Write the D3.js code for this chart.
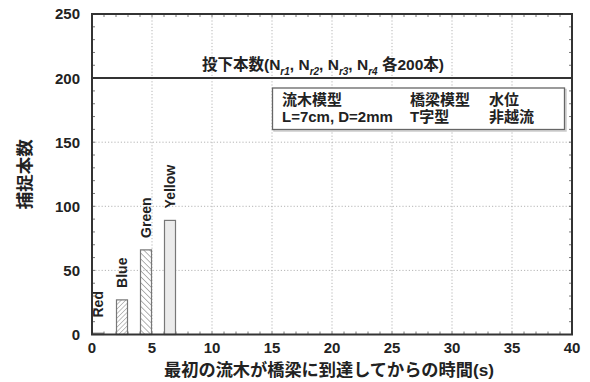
<!DOCTYPE html>
<html>
<head>
<meta charset="utf-8">
<script src="https://cdn.jsdelivr.net/npm/d3@7"></script>
<style>
  html, body { margin: 0; padding: 0; background: #fff; }
  svg { display: block; }
  text { fill: #222; }
</style>
</head>
<body>
<svg id="chart" width="590" height="382"></svg>
<script>
// Driftwood capture counts per elapsed-time bin (1 s bins)
const groups = ["Red", "Blue", "Green", "Yellow"];
const binStart = [0, 2, 4, 6];          // s
const captured = [1, 27, 66, 89];       // pieces captured
const dropTotal = 200;                  // pieces dropped per colour
const xTicks = [0, 5, 10, 15, 20, 25, 30, 35, 40];
const yTicks = [0, 50, 100, 150, 200, 250];

const latin = "'Liberation Sans', Arial, sans-serif";
const cjk = "'Liberation Sans', 'Noto Sans CJK JP', sans-serif";

const svg = d3.select("#chart");
const L = 92, R = 572, T = 14, B = 334.5;

const x = d3.scaleLinear().domain([0, 40]).range([L, R]);
const y = d3.scaleLinear().domain([0, 250]).range([B, T]);

// hatch patterns
const defs = svg.append("defs");
defs.append("pattern")
  .attr("id", "hatchBack").attr("patternUnits", "userSpaceOnUse")
  .attr("width", 3.2).attr("height", 3.2).attr("patternTransform", "rotate(45)")
  .append("line").attr("x1", 0).attr("y1", 0).attr("x2", 0).attr("y2", 3.2)
  .attr("stroke", "#777").attr("stroke-width", 0.9);
defs.append("pattern")
  .attr("id", "hatchFwd").attr("patternUnits", "userSpaceOnUse")
  .attr("width", 4.2).attr("height", 4.2).attr("patternTransform", "rotate(-45)")
  .append("line").attr("x1", 0).attr("y1", 0).attr("x2", 0).attr("y2", 4.2)
  .attr("stroke", "#666").attr("stroke-width", 1);
const fills = ["#fff", "url(#hatchBack)", "url(#hatchFwd)", "#ebebeb"];

// dotted grid
const grid = svg.append("g").attr("stroke", "#b5b5b5").attr("stroke-width", 1)
  .attr("stroke-dasharray", "1.2,2");
grid.selectAll(".gx").data(xTicks.slice(1, -1)).join("line")
  .attr("x1", d => x(d)).attr("x2", d => x(d)).attr("y1", T).attr("y2", B);
grid.selectAll(".gy").data(yTicks.slice(1, -1)).join("line")
  .attr("y1", d => y(d)).attr("y2", d => y(d)).attr("x1", L).attr("x2", R);

// minor ticks (inward) on all sides
const mt = svg.append("g").attr("stroke", "#555").attr("stroke-width", 0.8);
const xMinor = d3.range(1, 40);
const yMinor = d3.range(10, 250, 10);
mt.selectAll(".mb").data(xMinor).join("line")
  .attr("x1", d => x(d)).attr("x2", d => x(d)).attr("y1", B).attr("y2", B - 3);
mt.selectAll(".mtp").data(xMinor).join("line")
  .attr("x1", d => x(d)).attr("x2", d => x(d)).attr("y1", T).attr("y2", T + 3);
mt.selectAll(".ml").data(yMinor).join("line")
  .attr("y1", d => y(d)).attr("y2", d => y(d)).attr("x1", L).attr("x2", L + 3);
mt.selectAll(".mr").data(yMinor).join("line")
  .attr("y1", d => y(d)).attr("y2", d => y(d)).attr("x1", R).attr("x2", R - 3);

// bars
const bars = groups.map((g, i) => ({ g, t: binStart[i], v: captured[i], fill: fills[i] }));
svg.append("g").selectAll("rect").data(bars).join("rect")
  .attr("x", d => x(d.t) + 0.5)
  .attr("width", d => x(d.t + 1) - x(d.t) - 1)
  .attr("y", d => y(d.v))
  .attr("height", d => y(0) - y(d.v))
  .attr("fill", d => d.fill)
  .attr("stroke", "#777").attr("stroke-width", 1.2);

// group labels above bars, rotated
svg.append("g").selectAll("text").data(bars).join("text")
  .attr("transform", d => `translate(${x(d.t + 0.5) + 5},${Math.min(y(d.v) - 12, B - 17)}) rotate(-90)`)
  .attr("font-family", latin).attr("font-weight", "bold").attr("font-size", 14)
  .text(d => d.g);

// drop-count reference line
svg.append("line")
  .attr("x1", L).attr("x2", R).attr("y1", y(dropTotal)).attr("y2", y(dropTotal))
  .attr("stroke", "#333").attr("stroke-width", 2);

const ref = svg.append("text")
  .attr("x", 202).attr("y", y(dropTotal) - 8)
  .attr("font-family", cjk).attr("font-weight", "bold").attr("font-size", 15.5);
ref.append("tspan").text("投下本数(N");
const subs = ["r1", "r2", "r3", "r4"];
subs.forEach((s, i) => {
  ref.append("tspan").attr("dy", 5).attr("font-size", 10).attr("font-style", "italic").text(s);
  ref.append("tspan").attr("dy", -5).text(i < subs.length - 1 ? ", N" : "  各" + dropTotal + "本)");
});

// legend box
svg.append("rect")
  .attr("x", 274).attr("y", 89.5).attr("width", 292).attr("height", 41.5)
  .attr("fill", "none").attr("stroke", "#ccc").attr("stroke-width", 1.5);
svg.append("rect")
  .attr("x", 272.5).attr("y", 88).attr("width", 292).attr("height", 41.5)
  .attr("fill", "#fff").attr("stroke", "#666").attr("stroke-width", 1.3);
const legendRows = [
  ["流木模型", "橋梁模型", "水位"],
  ["L=7cm, D=2mm", "T字型", "非越流"]
];
const colX = [282, 410, 489];
legendRows.forEach((row, r) => {
  row.forEach((s, c) => {
    svg.append("text")
      .attr("x", colX[c]).attr("y", 105 + r * 17)
      .attr("font-family", cjk).attr("font-weight", "bold").attr("font-size", 15)
      .text(s);
  });
});

// frame
svg.append("rect")
  .attr("x", L).attr("y", T).attr("width", R - L).attr("height", B - T)
  .attr("fill", "none").attr("stroke", "#333").attr("stroke-width", 2);

// tick labels
svg.append("g").selectAll("text").data(yTicks).join("text")
  .attr("x", L - 12).attr("y", d => y(d)).attr("dy", "0.36em")
  .attr("text-anchor", "end")
  .attr("font-family", latin).attr("font-weight", "bold").attr("font-size", 15)
  .text(d => d);
svg.append("g").selectAll("text").data(xTicks).join("text")
  .attr("x", d => x(d)).attr("y", B + 18.5)
  .attr("text-anchor", "middle")
  .attr("font-family", latin).attr("font-weight", "bold").attr("font-size", 15)
  .text(d => d);

// axis titles
svg.append("text")
  .attr("x", 329).attr("y", 376).attr("text-anchor", "middle")
  .attr("font-family", cjk).attr("font-weight", "bold").attr("font-size", 17.2)
  .text("最初の流木が橋梁に到達してからの時間(s)");
svg.append("text")
  .attr("transform", `translate(31,${(T + B) / 2}) rotate(-90)`)
  .attr("text-anchor", "middle")
  .attr("font-family", "'Noto Sans CJK JP', sans-serif").attr("font-weight", "bold").attr("font-size", 17.5)
  .text("捕捉本数");
</script>
</body>
</html>
